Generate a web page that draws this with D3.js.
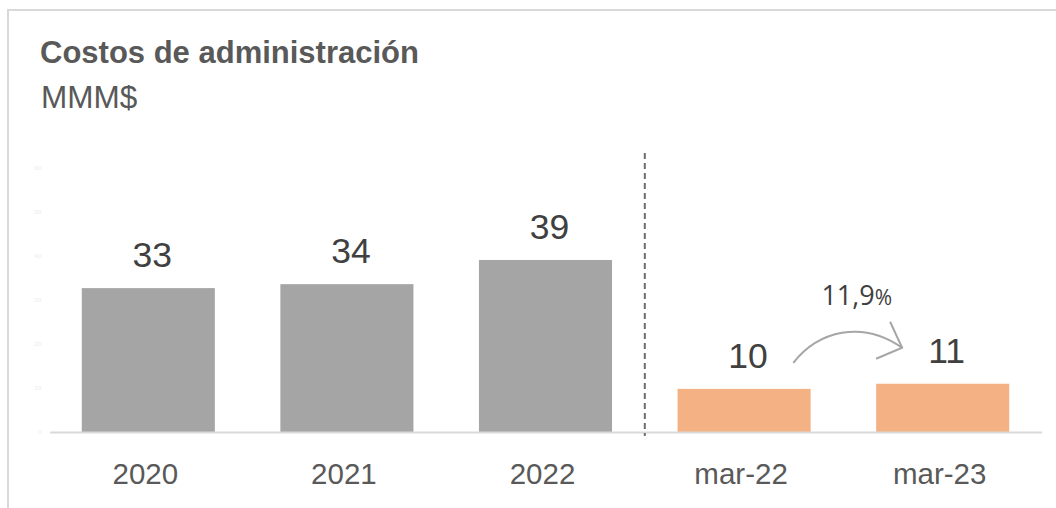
<!DOCTYPE html>
<html><head><meta charset="utf-8">
<script src="https://cdn.jsdelivr.net/npm/d3@7"></script>
<style>
html,body{margin:0;padding:0;background:#fff;}
svg{display:block;}
</style></head>
<body>
<script>
const categories = ["2020","2021","2022","mar-22","mar-23"];
const values = [32.7, 33.6, 39.1, 9.8, 10.97];
const labels = ["33","34","39","10","11"];
const groups = ["year","year","year","quarter","quarter"];
const yTicks = [0,10,20,30,40,50,60];
const growthLabel = "11,9";
const title = "Costos de administración";
const unit = "MMM$";

const W = 1056, H = 508;
const svg = d3.select("body").append("svg").attr("width", W).attr("height", H);

// frame
svg.append("rect").attr("x", 8).attr("y", 10).attr("width", W + 20).attr("height", H + 20)
  .attr("fill", "none").attr("stroke", "#d9d9d9").attr("stroke-width", 2);

svg.append("text").attr("x", 40).attr("y", 63).text(title)
  .attr("font-family", "Liberation Sans, Arial, sans-serif").attr("font-weight", "bold")
  .attr("font-size", 31).attr("fill", "#595959");
svg.append("text").attr("x", 41).attr("y", 108).text(unit)
  .attr("font-family", "Liberation Sans, Arial, sans-serif")
  .attr("font-size", 31.5).attr("fill", "#595959");

const x = d3.scaleBand().domain(categories).range([49, 1042]).paddingInner(0.33).paddingOuter(0.165);
const y = d3.scaleLinear().domain([0, 60]).range([432, 168]);

// faint y axis
const yAxis = svg.append("g").attr("transform", "translate(41,0)")
  .call(d3.axisLeft(y).tickValues(yTicks).tickSize(0).tickPadding(0));
yAxis.select(".domain").remove();
yAxis.selectAll("text").attr("fill", "#ececec").attr("font-size", 6)
  .attr("font-family", "Liberation Sans, Arial, sans-serif");

const colors = {year: "#a5a5a5", quarter: "#f4b183"};

svg.selectAll("rect.bar").data(categories).enter().append("rect").attr("class", "bar")
  .attr("x", d => x(d)).attr("width", x.bandwidth())
  .attr("y", (d, i) => y(values[i])).attr("height", (d, i) => y(0) - y(values[i]))
  .attr("fill", (d, i) => colors[groups[i]]);

// baseline
svg.append("line").attr("x1", x.range()[0] + 1).attr("x2", x.range()[1]).attr("y1", y(0) + 0.5).attr("y2", y(0) + 0.5)
  .attr("stroke", "#d9d9d9").attr("stroke-width", 2);

// value labels
svg.selectAll("text.val").data(categories).enter().append("text").attr("class", "val")
  .attr("x", d => x(d) + x.bandwidth() / 2 + 4).attr("y", (d, i) => y(values[i]) - 21)
  .attr("text-anchor", "middle").text((d, i) => labels[i])
  .attr("font-family", "Liberation Sans, Arial, sans-serif").attr("font-size", 35.5).attr("fill", "#404040");

// category labels
svg.selectAll("text.cat").data(categories).enter().append("text").attr("class", "cat")
  .attr("x", d => x(d) + x.bandwidth() / 2 - 3).attr("y", 484)
  .attr("text-anchor", "middle").text(d => d)
  .attr("font-family", "Liberation Sans, Arial, sans-serif").attr("font-size", 29.5).attr("fill", "#595959");

// separator
const sepX = (x("2022") + x.bandwidth() + x("mar-22")) / 2;
svg.append("line").attr("x1", sepX).attr("x2", sepX).attr("y1", 153).attr("y2", 436)
  .attr("stroke", "#6d6d6d").attr("stroke-width", 2).attr("stroke-dasharray", "6,4");

// growth arrow
const x0 = x("mar-22") + x.bandwidth() * 0.87, y0 = y(values[3]) - 26;
const x1 = x("mar-23") + x.bandwidth() * 0.195, y1 = y(values[4]) - 36;
const arrowPath = d3.path();
arrowPath.moveTo(x0, y0);
arrowPath.bezierCurveTo(x0 + 25, y0 - 32, x1 - 40, y1 - 28, x1, y1);
svg.append("path").attr("d", arrowPath.toString()).attr("fill", "none")
  .attr("stroke", "#a6a6a6").attr("stroke-width", 2);
const head = d3.path();
head.moveTo(x1 - 12, y1 - 26);
head.lineTo(x1, y1);
head.lineTo(x1 - 26, y1 + 11);
svg.append("path").attr("d", head.toString()).attr("fill", "none")
  .attr("stroke", "#a6a6a6").attr("stroke-width", 2);

const gt = svg.append("text").attr("x", (x0 + x1) / 2 + 9).attr("y", 305).attr("text-anchor", "middle")
  .attr("font-family", "Open Sans, sans-serif").attr("fill", "#404040");
gt.append("tspan").attr("font-size", 27).text(growthLabel);
gt.append("tspan").attr("font-size", 21).text("%");
</script>
</body></html>
